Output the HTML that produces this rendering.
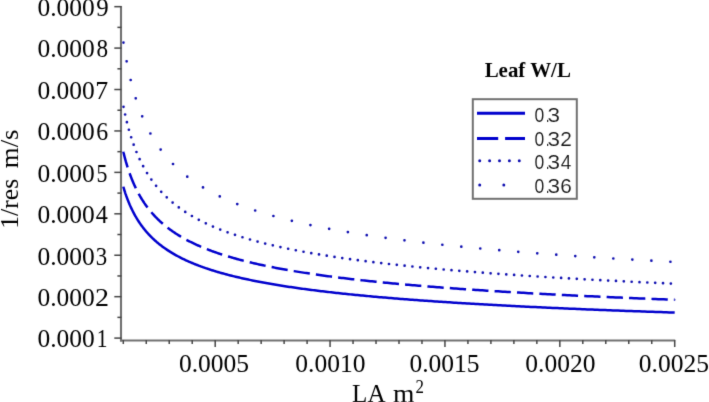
<!DOCTYPE html>
<html><head><meta charset="utf-8"><style>
html,body{margin:0;padding:0;background:#fff;}
svg{display:block;will-change:transform;}
</style></head><body>
<svg width="709" height="402" viewBox="0 0 709 402">
<defs><filter id="bl" filterUnits="userSpaceOnUse" x="0" y="0" width="709" height="402"><feConvolveMatrix order="3" kernelMatrix="0.01134 0.08382 0.01134 0.08382 0.61935 0.08382 0.01134 0.08382 0.01134" edgeMode="none" preserveAlpha="false"/></filter></defs>
<rect width="709" height="402" fill="#fff"/>
<g filter="url(#bl)">
<g fill="none" stroke="#0000cd" stroke-width="2.5" stroke-linejoin="round">
<polyline points="123.30,186.71 123.30,186.72 123.31,186.76 123.33,186.82 123.36,186.90 123.39,187.01 123.42,187.14 123.47,187.29 123.52,187.46 123.58,187.66 123.65,187.88 123.72,188.12 123.80,188.38 123.89,188.67 123.98,188.97 124.08,189.30 124.19,189.65 124.30,190.01 124.42,190.40 124.55,190.80 124.69,191.22 124.83,191.66 124.98,192.12 125.13,192.59 125.30,193.08 125.46,193.58 125.64,194.10 125.82,194.63 126.02,195.18 126.21,195.74 126.42,196.31 126.63,196.90 126.85,197.49 127.07,198.10 127.30,198.72 127.54,199.35 127.79,199.98 128.04,200.63 128.30,201.28 128.57,201.94 128.84,202.61 129.12,203.28 129.41,203.96 129.70,204.65 130.01,205.34 130.31,206.04 130.63,206.74 130.95,207.44 131.28,208.15 131.62,208.86 131.96,209.57 132.31,210.28 132.67,211.00 133.03,211.72 133.40,212.44 133.78,213.16 134.16,213.88 134.55,214.60 134.95,215.32 135.36,216.03 135.77,216.75 136.19,217.47 136.61,218.19 137.05,218.90 137.49,219.62 137.93,220.33 138.39,221.04 138.85,221.74 139.32,222.45 139.79,223.15 140.27,223.85 140.76,224.54 141.26,225.24 141.76,225.93 142.27,226.61 142.78,227.30 143.31,227.98 143.84,228.65 144.37,229.32 144.92,229.99 145.47,230.66 146.02,231.32 146.59,231.97 147.16,232.62 147.74,233.27 148.32,233.91 148.92,234.55 149.52,235.19 150.12,235.82 150.73,236.45 151.35,237.07 151.98,237.68 152.62,238.30 153.26,238.91 153.90,239.51 154.56,240.11 155.22,240.70 155.89,241.29 156.56,241.88 157.25,242.46 157.94,243.04 158.63,243.61 159.33,244.18 160.04,244.74 160.76,245.30 161.49,245.85 162.22,246.40 162.95,246.95 163.70,247.49 164.45,248.02 165.21,248.55 165.97,249.08 166.75,249.61 167.53,250.12 168.31,250.64 169.11,251.15 169.91,251.66 170.71,252.16 171.53,252.65 172.35,253.15 173.18,253.64 174.01,254.12 174.85,254.60 175.70,255.08 176.56,255.55 177.42,256.02 178.29,256.49 179.16,256.95 180.05,257.41 180.94,257.86 181.83,258.31 182.74,258.76 183.65,259.20 184.57,259.64 185.49,260.08 186.42,260.51 187.36,260.93 188.31,261.36 189.26,261.78 190.22,262.20 191.19,262.61 192.16,263.02 193.14,263.43 194.13,263.83 195.12,264.23 196.12,264.63 197.13,265.02 198.14,265.41 199.17,265.80 200.19,266.19 201.23,266.57 202.27,266.95 203.32,267.32 204.38,267.69 205.44,268.06 206.51,268.43 207.59,268.79 208.67,269.15 209.76,269.51 210.86,269.86 211.97,270.21 213.08,270.56 214.20,270.91 215.32,271.25 216.46,271.59 217.60,271.93 218.74,272.27 219.89,272.60 221.06,272.93 222.22,273.26 223.40,273.58 224.58,273.90 225.77,274.22 226.96,274.54 228.16,274.86 229.37,275.17 230.59,275.48 231.81,275.79 233.04,276.09 234.28,276.40 235.52,276.70 236.77,277.00 238.03,277.29 239.29,277.59 240.56,277.88 241.84,278.17 243.12,278.46 244.42,278.74 245.72,279.03 247.02,279.31 248.33,279.59 249.65,279.86 250.98,280.14 252.31,280.41 253.65,280.68 255.00,280.95 256.36,281.22 257.72,281.49 259.08,281.75 260.46,282.01 261.84,282.27 263.23,282.53 264.63,282.79 266.03,283.04 267.44,283.29 268.86,283.55 270.28,283.79 271.71,284.04 273.15,284.29 274.59,284.53 276.04,284.78 277.50,285.02 278.97,285.26 280.44,285.49 281.92,285.73 283.40,285.96 284.90,286.20 286.39,286.43 287.90,286.66 289.42,286.89 290.94,287.11 292.46,287.34 294.00,287.56 295.54,287.78 297.09,288.00 298.64,288.22 300.20,288.44 301.77,288.66 303.35,288.87 304.93,289.09 306.52,289.30 308.12,289.51 309.72,289.72 311.33,289.93 312.95,290.13 314.57,290.34 316.21,290.54 317.84,290.75 319.49,290.95 321.14,291.15 322.80,291.35 324.47,291.55 326.14,291.74 327.82,291.94 329.51,292.13 331.20,292.33 332.90,292.52 334.61,292.71 336.32,292.90 338.04,293.09 339.77,293.28 341.51,293.46 343.25,293.65 345.00,293.83 346.75,294.01 348.52,294.20 350.29,294.38 352.06,294.56 353.85,294.74 355.64,294.91 357.44,295.09 359.24,295.27 361.05,295.44 362.87,295.61 364.70,295.79 366.53,295.96 368.37,296.13 370.21,296.30 372.07,296.47 373.93,296.64 375.79,296.80 377.67,296.97 379.55,297.13 381.43,297.30 383.33,297.46 385.23,297.62 387.14,297.78 389.05,297.94 390.98,298.10 392.91,298.26 394.84,298.42 396.79,298.58 398.74,298.73 400.69,298.89 402.66,299.04 404.63,299.19 406.60,299.35 408.59,299.50 410.58,299.65 412.58,299.80 414.58,299.95 416.60,300.10 418.62,300.25 420.64,300.39 422.68,300.54 424.72,300.69 426.76,300.83 428.82,300.97 430.88,301.12 432.94,301.26 435.02,301.40 437.10,301.54 439.19,301.68 441.28,301.82 443.39,301.96 445.50,302.10 447.61,302.24 449.74,302.37 451.87,302.51 454.00,302.64 456.15,302.78 458.30,302.91 460.46,303.05 462.62,303.18 464.79,303.31 466.97,303.44 469.16,303.57 471.35,303.70 473.55,303.83 475.75,303.96 477.97,304.09 480.19,304.22 482.41,304.34 484.65,304.47 486.89,304.60 489.14,304.72 491.39,304.85 493.65,304.97 495.92,305.09 498.20,305.22 500.48,305.34 502.77,305.46 505.07,305.58 507.37,305.70 509.68,305.82 512.00,305.94 514.32,306.06 516.65,306.18 518.99,306.29 521.33,306.41 523.69,306.53 526.04,306.64 528.41,306.76 530.78,306.88 533.16,306.99 535.55,307.10 537.94,307.22 540.34,307.33 542.75,307.44 545.16,307.55 547.58,307.67 550.01,307.78 552.45,307.89 554.89,308.00 557.34,308.11 559.79,308.21 562.26,308.32 564.73,308.43 567.20,308.54 569.69,308.65 572.18,308.75 574.67,308.86 577.18,308.96 579.69,309.07 582.21,309.17 584.73,309.28 587.26,309.38 589.80,309.48 592.35,309.59 594.90,309.69 597.46,309.79 600.03,309.89 602.60,309.99 605.18,310.09 607.77,310.20 610.36,310.30 612.96,310.39 615.57,310.49 618.19,310.59 620.81,310.69 623.44,310.79 626.07,310.89 628.71,310.98 631.36,311.08 634.02,311.18 636.68,311.27 639.35,311.37 642.03,311.46 644.72,311.56 647.41,311.65 650.11,311.74 652.81,311.84 655.52,311.93 658.24,312.02 660.97,312.12 663.70,312.21 666.44,312.30 669.19,312.39 671.94,312.48 674.70,312.57" stroke-linecap="butt"/>
<polyline points="123.30,151.75 123.30,151.77 123.31,151.81 123.33,151.88 123.36,151.98 123.39,152.11 123.42,152.27 123.47,152.46 123.52,152.67 123.58,152.91 123.65,153.18 123.72,153.48 123.80,153.80 123.89,154.14 123.98,154.52 124.08,154.91 124.19,155.34 124.30,155.78 124.42,156.25 124.55,156.74 124.69,157.26 124.83,157.79 124.98,158.35 125.13,158.92 125.30,159.52 125.46,160.13 125.64,160.76 125.82,161.41 126.02,162.07 126.21,162.75 126.42,163.45 126.63,164.16 126.85,164.88 127.07,165.62 127.30,166.37 127.54,167.13 127.79,167.90 128.04,168.68 128.30,169.47 128.57,170.27 128.84,171.08 129.12,171.89 129.41,172.71 129.70,173.54 130.01,174.38 130.31,175.22 130.63,176.06 130.95,176.91 131.28,177.76 131.62,178.61 131.96,179.47 132.31,180.33 132.67,181.19 133.03,182.06 133.40,182.92 133.78,183.78 134.16,184.65 134.55,185.51 134.95,186.37 135.36,187.24 135.77,188.10 136.19,188.96 136.61,189.81 137.05,190.67 137.49,191.52 137.93,192.37 138.39,193.22 138.85,194.06 139.32,194.90 139.79,195.74 140.27,196.57 140.76,197.40 141.26,198.23 141.76,199.05 142.27,199.87 142.78,200.68 143.31,201.49 143.84,202.29 144.37,203.09 144.92,203.88 145.47,204.67 146.02,205.45 146.59,206.23 147.16,207.01 147.74,207.77 148.32,208.54 148.92,209.29 149.52,210.04 150.12,210.79 150.73,211.53 151.35,212.27 151.98,213.00 152.62,213.72 153.26,214.44 153.90,215.15 154.56,215.86 155.22,216.56 155.89,217.26 156.56,217.95 157.25,218.63 157.94,219.31 158.63,219.98 159.33,220.65 160.04,221.31 160.76,221.97 161.49,222.62 162.22,223.27 162.95,223.91 163.70,224.55 164.45,225.18 165.21,225.80 165.97,226.42 166.75,227.03 167.53,227.64 168.31,228.25 169.11,228.84 169.91,229.44 170.71,230.02 171.53,230.61 172.35,231.19 173.18,231.76 174.01,232.33 174.85,232.89 175.70,233.45 176.56,234.00 177.42,234.55 178.29,235.09 179.16,235.63 180.05,236.17 180.94,236.70 181.83,237.22 182.74,237.75 183.65,238.26 184.57,238.77 185.49,239.28 186.42,239.78 187.36,240.28 188.31,240.78 189.26,241.27 190.22,241.75 191.19,242.24 192.16,242.72 193.14,243.19 194.13,243.66 195.12,244.13 196.12,244.59 197.13,245.05 198.14,245.50 199.17,245.95 200.19,246.40 201.23,246.84 202.27,247.28 203.32,247.72 204.38,248.15 205.44,248.58 206.51,249.00 207.59,249.42 208.67,249.84 209.76,250.26 210.86,250.67 211.97,251.07 213.08,251.48 214.20,251.88 215.32,252.28 216.46,252.67 217.60,253.07 218.74,253.45 219.89,253.84 221.06,254.22 222.22,254.60 223.40,254.98 224.58,255.35 225.77,255.72 226.96,256.09 228.16,256.45 229.37,256.82 230.59,257.17 231.81,257.53 233.04,257.88 234.28,258.24 235.52,258.58 236.77,258.93 238.03,259.27 239.29,259.61 240.56,259.95 241.84,260.28 243.12,260.62 244.42,260.95 245.72,261.27 247.02,261.60 248.33,261.92 249.65,262.24 250.98,262.56 252.31,262.88 253.65,263.19 255.00,263.50 256.36,263.81 257.72,264.12 259.08,264.42 260.46,264.72 261.84,265.02 263.23,265.32 264.63,265.62 266.03,265.91 267.44,266.20 268.86,266.49 270.28,266.78 271.71,267.06 273.15,267.35 274.59,267.63 276.04,267.91 277.50,268.19 278.97,268.46 280.44,268.73 281.92,269.01 283.40,269.28 284.90,269.54 286.39,269.81 287.90,270.07 289.42,270.34 290.94,270.60 292.46,270.86 294.00,271.11 295.54,271.37 297.09,271.62 298.64,271.88 300.20,272.13 301.77,272.38 303.35,272.62 304.93,272.87 306.52,273.11 308.12,273.36 309.72,273.60 311.33,273.84 312.95,274.07 314.57,274.31 316.21,274.55 317.84,274.78 319.49,275.01 321.14,275.24 322.80,275.47 324.47,275.70 326.14,275.92 327.82,276.15 329.51,276.37 331.20,276.59 332.90,276.82 334.61,277.03 336.32,277.25 338.04,277.47 339.77,277.68 341.51,277.90 343.25,278.11 345.00,278.32 346.75,278.53 348.52,278.74 350.29,278.95 352.06,279.15 353.85,279.36 355.64,279.56 357.44,279.77 359.24,279.97 361.05,280.17 362.87,280.37 364.70,280.57 366.53,280.76 368.37,280.96 370.21,281.15 372.07,281.35 373.93,281.54 375.79,281.73 377.67,281.92 379.55,282.11 381.43,282.30 383.33,282.48 385.23,282.67 387.14,282.85 389.05,283.04 390.98,283.22 392.91,283.40 394.84,283.58 396.79,283.76 398.74,283.94 400.69,284.12 402.66,284.30 404.63,284.47 406.60,284.65 408.59,284.82 410.58,284.99 412.58,285.17 414.58,285.34 416.60,285.51 418.62,285.68 420.64,285.85 422.68,286.01 424.72,286.18 426.76,286.34 428.82,286.51 430.88,286.67 432.94,286.84 435.02,287.00 437.10,287.16 439.19,287.32 441.28,287.48 443.39,287.64 445.50,287.80 447.61,287.96 449.74,288.11 451.87,288.27 454.00,288.42 456.15,288.58 458.30,288.73 460.46,288.88 462.62,289.03 464.79,289.19 466.97,289.34 469.16,289.49 471.35,289.63 473.55,289.78 475.75,289.93 477.97,290.08 480.19,290.22 482.41,290.37 484.65,290.51 486.89,290.66 489.14,290.80 491.39,290.94 493.65,291.08 495.92,291.22 498.20,291.36 500.48,291.50 502.77,291.64 505.07,291.78 507.37,291.92 509.68,292.06 512.00,292.19 514.32,292.33 516.65,292.46 518.99,292.60 521.33,292.73 523.69,292.87 526.04,293.00 528.41,293.13 530.78,293.26 533.16,293.39 535.55,293.52 537.94,293.65 540.34,293.78 542.75,293.91 545.16,294.04 547.58,294.16 550.01,294.29 552.45,294.42 554.89,294.54 557.34,294.67 559.79,294.79 562.26,294.92 564.73,295.04 567.20,295.16 569.69,295.28 572.18,295.41 574.67,295.53 577.18,295.65 579.69,295.77 582.21,295.89 584.73,296.01 587.26,296.13 589.80,296.24 592.35,296.36 594.90,296.48 597.46,296.59 600.03,296.71 602.60,296.83 605.18,296.94 607.77,297.06 610.36,297.17 612.96,297.28 615.57,297.40 618.19,297.51 620.81,297.62 623.44,297.73 626.07,297.84 628.71,297.95 631.36,298.07 634.02,298.18 636.68,298.28 639.35,298.39 642.03,298.50 644.72,298.61 647.41,298.72 650.11,298.82 652.81,298.93 655.52,299.04 658.24,299.14 660.97,299.25 663.70,299.35 666.44,299.46 669.19,299.56 671.94,299.67 674.70,299.77" stroke-dasharray="16.3 6.14" stroke-linecap="butt"/>
<polyline points="123.30,105.74 123.30,105.75 123.31,105.81 123.33,105.90 123.36,106.02 123.39,106.18 123.42,106.37 123.47,106.60 123.52,106.87 123.58,107.16 123.65,107.49 123.72,107.86 123.80,108.26 123.89,108.68 123.98,109.14 124.08,109.63 124.19,110.15 124.30,110.70 124.42,111.28 124.55,111.89 124.69,112.52 124.83,113.18 124.98,113.86 125.13,114.57 125.30,115.30 125.46,116.06 125.64,116.83 125.82,117.63 126.02,118.45 126.21,119.29 126.42,120.14 126.63,121.01 126.85,121.90 127.07,122.81 127.30,123.72 127.54,124.66 127.79,125.60 128.04,126.56 128.30,127.53 128.57,128.51 128.84,129.50 129.12,130.50 129.41,131.50 129.70,132.52 130.01,133.54 130.31,134.57 130.63,135.60 130.95,136.64 131.28,137.68 131.62,138.72 131.96,139.77 132.31,140.82 132.67,141.87 133.03,142.92 133.40,143.98 133.78,145.03 134.16,146.08 134.55,147.14 134.95,148.19 135.36,149.24 135.77,150.29 136.19,151.33 136.61,152.38 137.05,153.42 137.49,154.45 137.93,155.49 138.39,156.52 138.85,157.54 139.32,158.56 139.79,159.58 140.27,160.59 140.76,161.60 141.26,162.60 141.76,163.60 142.27,164.59 142.78,165.57 143.31,166.55 143.84,167.52 144.37,168.49 144.92,169.45 145.47,170.41 146.02,171.35 146.59,172.30 147.16,173.23 147.74,174.16 148.32,175.08 148.92,175.99 149.52,176.90 150.12,177.80 150.73,178.70 151.35,179.58 151.98,180.47 152.62,181.34 153.26,182.21 153.90,183.06 154.56,183.92 155.22,184.76 155.89,185.60 156.56,186.43 157.25,187.26 157.94,188.08 158.63,188.89 159.33,189.69 160.04,190.49 160.76,191.28 161.49,192.06 162.22,192.84 162.95,193.61 163.70,194.37 164.45,195.13 165.21,195.88 165.97,196.62 166.75,197.36 167.53,198.09 168.31,198.82 169.11,199.53 169.91,200.25 170.71,200.95 171.53,201.65 172.35,202.34 173.18,203.03 174.01,203.71 174.85,204.39 175.70,205.06 176.56,205.72 177.42,206.38 178.29,207.03 179.16,207.67 180.05,208.31 180.94,208.95 181.83,209.58 182.74,210.20 183.65,210.82 184.57,211.43 185.49,212.04 186.42,212.64 187.36,213.24 188.31,213.83 189.26,214.41 190.22,214.99 191.19,215.57 192.16,216.14 193.14,216.71 194.13,217.27 195.12,217.83 196.12,218.38 197.13,218.92 198.14,219.47 199.17,220.00 200.19,220.54 201.23,221.07 202.27,221.59 203.32,222.11 204.38,222.63 205.44,223.14 206.51,223.64 207.59,224.15 208.67,224.64 209.76,225.14 210.86,225.63 211.97,226.11 213.08,226.60 214.20,227.07 215.32,227.55 216.46,228.02 217.60,228.49 218.74,228.95 219.89,229.41 221.06,229.86 222.22,230.31 223.40,230.76 224.58,231.21 225.77,231.65 226.96,232.08 228.16,232.52 229.37,232.95 230.59,233.37 231.81,233.80 233.04,234.22 234.28,234.64 235.52,235.05 236.77,235.46 238.03,235.87 239.29,236.27 240.56,236.67 241.84,237.07 243.12,237.47 244.42,237.86 245.72,238.25 247.02,238.63 248.33,239.02 249.65,239.40 250.98,239.77 252.31,240.15 253.65,240.52 255.00,240.89 256.36,241.26 257.72,241.62 259.08,241.98 260.46,242.34 261.84,242.70 263.23,243.05 264.63,243.40 266.03,243.75 267.44,244.09 268.86,244.44 270.28,244.78 271.71,245.12 273.15,245.45 274.59,245.79 276.04,246.12 277.50,246.45 278.97,246.77 280.44,247.10 281.92,247.42 283.40,247.74 284.90,248.06 286.39,248.37 287.90,248.69 289.42,249.00 290.94,249.31 292.46,249.61 294.00,249.92 295.54,250.22 297.09,250.52 298.64,250.82 300.20,251.12 301.77,251.41 303.35,251.70 304.93,252.00 306.52,252.28 308.12,252.57 309.72,252.86 311.33,253.14 312.95,253.42 314.57,253.70 316.21,253.98 317.84,254.26 319.49,254.53 321.14,254.80 322.80,255.07 324.47,255.34 326.14,255.61 327.82,255.88 329.51,256.14 331.20,256.40 332.90,256.66 334.61,256.92 336.32,257.18 338.04,257.44 339.77,257.69 341.51,257.94 343.25,258.20 345.00,258.45 346.75,258.69 348.52,258.94 350.29,259.19 352.06,259.43 353.85,259.67 355.64,259.91 357.44,260.15 359.24,260.39 361.05,260.63 362.87,260.86 364.70,261.10 366.53,261.33 368.37,261.56 370.21,261.79 372.07,262.02 373.93,262.25 375.79,262.47 377.67,262.70 379.55,262.92 381.43,263.14 383.33,263.36 385.23,263.58 387.14,263.80 389.05,264.02 390.98,264.23 392.91,264.45 394.84,264.66 396.79,264.87 398.74,265.08 400.69,265.29 402.66,265.50 404.63,265.71 406.60,265.92 408.59,266.12 410.58,266.33 412.58,266.53 414.58,266.73 416.60,266.93 418.62,267.13 420.64,267.33 422.68,267.53 424.72,267.73 426.76,267.92 428.82,268.12 430.88,268.31 432.94,268.50 435.02,268.69 437.10,268.88 439.19,269.07 441.28,269.26 443.39,269.45 445.50,269.64 447.61,269.82 449.74,270.01 451.87,270.19 454.00,270.37 456.15,270.55 458.30,270.73 460.46,270.91 462.62,271.09 464.79,271.27 466.97,271.45 469.16,271.63 471.35,271.80 473.55,271.98 475.75,272.15 477.97,272.32 480.19,272.49 482.41,272.67 484.65,272.84 486.89,273.00 489.14,273.17 491.39,273.34 493.65,273.51 495.92,273.67 498.20,273.84 500.48,274.00 502.77,274.17 505.07,274.33 507.37,274.49 509.68,274.66 512.00,274.82 514.32,274.98 516.65,275.14 518.99,275.29 521.33,275.45 523.69,275.61 526.04,275.77 528.41,275.92 530.78,276.08 533.16,276.23 535.55,276.38 537.94,276.54 540.34,276.69 542.75,276.84 545.16,276.99 547.58,277.14 550.01,277.29 552.45,277.44 554.89,277.59 557.34,277.73 559.79,277.88 562.26,278.02 564.73,278.17 567.20,278.31 569.69,278.46 572.18,278.60 574.67,278.74 577.18,278.89 579.69,279.03 582.21,279.17 584.73,279.31 587.26,279.45 589.80,279.59 592.35,279.73 594.90,279.86 597.46,280.00 600.03,280.14 602.60,280.27 605.18,280.41 607.77,280.54 610.36,280.68 612.96,280.81 615.57,280.95 618.19,281.08 620.81,281.21 623.44,281.34 626.07,281.47 628.71,281.60 631.36,281.73 634.02,281.86 636.68,281.99 639.35,282.12 642.03,282.25 644.72,282.37 647.41,282.50 650.11,282.63 652.81,282.75 655.52,282.88 658.24,283.00 660.97,283.13 663.70,283.25 666.44,283.37 669.19,283.49 671.94,283.62 674.70,283.74" stroke="#1010b0" stroke-dasharray="0 7.85" stroke-dashoffset="-1.09" stroke-linecap="round" stroke-width="2.7"/>
<polyline points="123.30,41.66 123.30,41.68 123.31,41.75 123.33,41.86 123.36,42.02 123.39,42.23 123.42,42.48 123.47,42.78 123.52,43.12 123.58,43.50 123.65,43.92 123.72,44.39 123.80,44.90 123.89,45.46 123.98,46.05 124.08,46.68 124.19,47.35 124.30,48.05 124.42,48.80 124.55,49.58 124.69,50.39 124.83,51.23 124.98,52.11 125.13,53.02 125.30,53.96 125.46,54.93 125.64,55.93 125.82,56.95 126.02,58.00 126.21,59.07 126.42,60.16 126.63,61.28 126.85,62.42 127.07,63.57 127.30,64.75 127.54,65.94 127.79,67.15 128.04,68.37 128.30,69.61 128.57,70.85 128.84,72.12 129.12,73.39 129.41,74.67 129.70,75.96 130.01,77.26 130.31,78.56 130.63,79.88 130.95,81.19 131.28,82.52 131.62,83.84 131.96,85.17 132.31,86.50 132.67,87.83 133.03,89.17 133.40,90.50 133.78,91.83 134.16,93.16 134.55,94.49 134.95,95.82 135.36,97.15 135.77,98.47 136.19,99.79 136.61,101.10 137.05,102.42 137.49,103.72 137.93,105.02 138.39,106.32 138.85,107.61 139.32,108.89 139.79,110.17 140.27,111.44 140.76,112.70 141.26,113.96 141.76,115.21 142.27,116.45 142.78,117.68 143.31,118.91 143.84,120.13 144.37,121.34 144.92,122.54 145.47,123.73 146.02,124.91 146.59,126.09 147.16,127.26 147.74,128.41 148.32,129.56 148.92,130.70 149.52,131.83 150.12,132.96 150.73,134.07 151.35,135.17 151.98,136.27 152.62,137.36 153.26,138.43 153.90,139.50 154.56,140.56 155.22,141.61 155.89,142.65 156.56,143.68 157.25,144.70 157.94,145.72 158.63,146.72 159.33,147.72 160.04,148.71 160.76,149.68 161.49,150.65 162.22,151.62 162.95,152.57 163.70,153.51 164.45,154.45 165.21,155.37 165.97,156.29 166.75,157.20 167.53,158.10 168.31,159.00 169.11,159.88 169.91,160.76 170.71,161.63 171.53,162.49 172.35,163.35 173.18,164.19 174.01,165.03 174.85,165.86 175.70,166.68 176.56,167.50 177.42,168.31 178.29,169.11 179.16,169.90 180.05,170.69 180.94,171.47 181.83,172.24 182.74,173.00 183.65,173.76 184.57,174.51 185.49,175.26 186.42,176.00 187.36,176.73 188.31,177.45 189.26,178.17 190.22,178.88 191.19,179.59 192.16,180.29 193.14,180.98 194.13,181.67 195.12,182.35 196.12,183.02 197.13,183.69 198.14,184.35 199.17,185.01 200.19,185.66 201.23,186.31 202.27,186.95 203.32,187.58 204.38,188.21 205.44,188.84 206.51,189.45 207.59,190.07 208.67,190.67 209.76,191.28 210.86,191.88 211.97,192.47 213.08,193.06 214.20,193.64 215.32,194.22 216.46,194.79 217.60,195.36 218.74,195.92 219.89,196.48 221.06,197.03 222.22,197.58 223.40,198.13 224.58,198.67 225.77,199.20 226.96,199.74 228.16,200.26 229.37,200.79 230.59,201.31 231.81,201.82 233.04,202.33 234.28,202.84 235.52,203.34 236.77,203.84 238.03,204.33 239.29,204.82 240.56,205.31 241.84,205.79 243.12,206.27 244.42,206.75 245.72,207.22 247.02,207.69 248.33,208.15 249.65,208.62 250.98,209.07 252.31,209.53 253.65,209.98 255.00,210.43 256.36,210.87 257.72,211.31 259.08,211.75 260.46,212.18 261.84,212.61 263.23,213.04 264.63,213.47 266.03,213.89 267.44,214.31 268.86,214.72 270.28,215.13 271.71,215.54 273.15,215.95 274.59,216.35 276.04,216.75 277.50,217.15 278.97,217.55 280.44,217.94 281.92,218.33 283.40,218.71 284.90,219.10 286.39,219.48 287.90,219.86 289.42,220.23 290.94,220.61 292.46,220.98 294.00,221.35 295.54,221.71 297.09,222.08 298.64,222.44 300.20,222.79 301.77,223.15 303.35,223.50 304.93,223.86 306.52,224.20 308.12,224.55 309.72,224.89 311.33,225.24 312.95,225.58 314.57,225.91 316.21,226.25 317.84,226.58 319.49,226.91 321.14,227.24 322.80,227.57 324.47,227.89 326.14,228.22 327.82,228.54 329.51,228.85 331.20,229.17 332.90,229.48 334.61,229.80 336.32,230.11 338.04,230.42 339.77,230.72 341.51,231.03 343.25,231.33 345.00,231.63 346.75,231.93 348.52,232.23 350.29,232.52 352.06,232.82 353.85,233.11 355.64,233.40 357.44,233.68 359.24,233.97 361.05,234.26 362.87,234.54 364.70,234.82 366.53,235.10 368.37,235.38 370.21,235.65 372.07,235.93 373.93,236.20 375.79,236.47 377.67,236.74 379.55,237.01 381.43,237.28 383.33,237.55 385.23,237.81 387.14,238.07 389.05,238.33 390.98,238.59 392.91,238.85 394.84,239.11 396.79,239.36 398.74,239.61 400.69,239.87 402.66,240.12 404.63,240.37 406.60,240.61 408.59,240.86 410.58,241.11 412.58,241.35 414.58,241.59 416.60,241.83 418.62,242.07 420.64,242.31 422.68,242.55 424.72,242.79 426.76,243.02 428.82,243.25 430.88,243.49 432.94,243.72 435.02,243.95 437.10,244.17 439.19,244.40 441.28,244.63 443.39,244.85 445.50,245.08 447.61,245.30 449.74,245.52 451.87,245.74 454.00,245.96 456.15,246.18 458.30,246.40 460.46,246.61 462.62,246.83 464.79,247.04 466.97,247.25 469.16,247.46 471.35,247.67 473.55,247.88 475.75,248.09 477.97,248.30 480.19,248.51 482.41,248.71 484.65,248.91 486.89,249.12 489.14,249.32 491.39,249.52 493.65,249.72 495.92,249.92 498.20,250.12 500.48,250.32 502.77,250.51 505.07,250.71 507.37,250.90 509.68,251.10 512.00,251.29 514.32,251.48 516.65,251.67 518.99,251.86 521.33,252.05 523.69,252.24 526.04,252.42 528.41,252.61 530.78,252.80 533.16,252.98 535.55,253.16 537.94,253.35 540.34,253.53 542.75,253.71 545.16,253.89 547.58,254.07 550.01,254.25 552.45,254.43 554.89,254.60 557.34,254.78 559.79,254.95 562.26,255.13 564.73,255.30 567.20,255.48 569.69,255.65 572.18,255.82 574.67,255.99 577.18,256.16 579.69,256.33 582.21,256.50 584.73,256.67 587.26,256.83 589.80,257.00 592.35,257.16 594.90,257.33 597.46,257.49 600.03,257.66 602.60,257.82 605.18,257.98 607.77,258.14 610.36,258.30 612.96,258.46 615.57,258.62 618.19,258.78 620.81,258.94 623.44,259.10 626.07,259.25 628.71,259.41 631.36,259.56 634.02,259.72 636.68,259.87 639.35,260.02 642.03,260.18 644.72,260.33 647.41,260.48 650.11,260.63 652.81,260.78 655.52,260.93 658.24,261.08 660.97,261.23 663.70,261.38 666.44,261.52 669.19,261.67 671.94,261.82 674.70,261.96" stroke="#1010b0" stroke-dasharray="0 19.06" stroke-dashoffset="-0.93" stroke-linecap="round" stroke-width="2.7"/>
<circle cx="674.70" cy="299.77" r="0.9" fill="#5050c8" stroke="none"/>
</g>
<g stroke="#707070" stroke-width="2.1" fill="none">
<line x1="121" y1="6" x2="121" y2="341.5"/>
<line x1="120" y1="340.5" x2="675.2" y2="340.5"/>
</g>
<g stroke="#454545" stroke-width="1.5" fill="none">
<line x1="114.3" y1="338.10" x2="121.5" y2="338.10"/><line x1="114.3" y1="296.67" x2="121.5" y2="296.67"/><line x1="114.3" y1="255.24" x2="121.5" y2="255.24"/><line x1="114.3" y1="213.81" x2="121.5" y2="213.81"/><line x1="114.3" y1="172.38" x2="121.5" y2="172.38"/><line x1="114.3" y1="130.95" x2="121.5" y2="130.95"/><line x1="114.3" y1="89.52" x2="121.5" y2="89.52"/><line x1="114.3" y1="48.09" x2="121.5" y2="48.09"/><line x1="114.3" y1="6.66" x2="121.5" y2="6.66"/><line x1="117.4" y1="317.38" x2="121.5" y2="317.38"/><line x1="117.4" y1="275.96" x2="121.5" y2="275.96"/><line x1="117.4" y1="234.52" x2="121.5" y2="234.52"/><line x1="117.4" y1="193.09" x2="121.5" y2="193.09"/><line x1="117.4" y1="151.66" x2="121.5" y2="151.66"/><line x1="117.4" y1="110.24" x2="121.5" y2="110.24"/><line x1="117.4" y1="68.81" x2="121.5" y2="68.81"/><line x1="117.4" y1="27.38" x2="121.5" y2="27.38"/><line x1="123.30" y1="340" x2="123.30" y2="344"/><line x1="146.27" y1="340" x2="146.27" y2="344"/><line x1="169.25" y1="340" x2="169.25" y2="344"/><line x1="192.22" y1="340" x2="192.22" y2="344"/><line x1="215.20" y1="340" x2="215.20" y2="347"/><line x1="238.18" y1="340" x2="238.18" y2="344"/><line x1="261.15" y1="340" x2="261.15" y2="344"/><line x1="284.12" y1="340" x2="284.12" y2="344"/><line x1="307.10" y1="340" x2="307.10" y2="344"/><line x1="330.07" y1="340" x2="330.07" y2="347"/><line x1="353.05" y1="340" x2="353.05" y2="344"/><line x1="376.02" y1="340" x2="376.02" y2="344"/><line x1="399.00" y1="340" x2="399.00" y2="344"/><line x1="421.98" y1="340" x2="421.98" y2="344"/><line x1="444.95" y1="340" x2="444.95" y2="347"/><line x1="467.93" y1="340" x2="467.93" y2="344"/><line x1="490.90" y1="340" x2="490.90" y2="344"/><line x1="513.88" y1="340" x2="513.88" y2="344"/><line x1="536.85" y1="340" x2="536.85" y2="344"/><line x1="559.83" y1="340" x2="559.83" y2="347"/><line x1="582.80" y1="340" x2="582.80" y2="344"/><line x1="605.78" y1="340" x2="605.78" y2="344"/><line x1="628.75" y1="340" x2="628.75" y2="344"/><line x1="651.73" y1="340" x2="651.73" y2="344"/><line x1="674.70" y1="340" x2="674.70" y2="347"/>
</g>
<text x="37.41" y="347.40" font-family="Liberation Serif, serif" font-size="24.8" textLength="57.26" lengthAdjust="spacingAndGlyphs">0.000</text><text x="96.77" y="347.40" font-family="Liberation Serif, serif" font-size="24.8" textLength="10.72" lengthAdjust="spacingAndGlyphs">1</text><text x="37.41" y="305.97" font-family="Liberation Serif, serif" font-size="24.8" textLength="57.26" lengthAdjust="spacingAndGlyphs">0.000</text><text x="94.93" y="305.97" font-family="Liberation Serif, serif" font-size="24.8" textLength="14.02" lengthAdjust="spacingAndGlyphs">2</text><text x="37.41" y="264.54" font-family="Liberation Serif, serif" font-size="24.8" textLength="57.26" lengthAdjust="spacingAndGlyphs">0.000</text><text x="95.86" y="264.54" font-family="Liberation Serif, serif" font-size="24.8" textLength="11.42" lengthAdjust="spacingAndGlyphs">3</text><text x="37.41" y="223.11" font-family="Liberation Serif, serif" font-size="24.8" textLength="57.26" lengthAdjust="spacingAndGlyphs">0.000</text><text x="95.67" y="223.11" font-family="Liberation Serif, serif" font-size="24.8" textLength="12.08" lengthAdjust="spacingAndGlyphs">4</text><text x="37.41" y="181.68" font-family="Liberation Serif, serif" font-size="24.8" textLength="57.26" lengthAdjust="spacingAndGlyphs">0.000</text><text x="96.41" y="181.68" font-family="Liberation Serif, serif" font-size="24.8" textLength="10.90" lengthAdjust="spacingAndGlyphs">5</text><text x="37.41" y="140.25" font-family="Liberation Serif, serif" font-size="24.8" textLength="57.26" lengthAdjust="spacingAndGlyphs">0.000</text><text x="96.23" y="140.25" font-family="Liberation Serif, serif" font-size="24.8" textLength="11.94" lengthAdjust="spacingAndGlyphs">6</text><text x="37.41" y="98.82" font-family="Liberation Serif, serif" font-size="24.8" textLength="57.26" lengthAdjust="spacingAndGlyphs">0.000</text><text x="95.34" y="98.82" font-family="Liberation Serif, serif" font-size="24.8" textLength="12.91" lengthAdjust="spacingAndGlyphs">7</text><text x="37.41" y="57.39" font-family="Liberation Serif, serif" font-size="24.8" textLength="57.26" lengthAdjust="spacingAndGlyphs">0.000</text><text x="96.57" y="57.39" font-family="Liberation Serif, serif" font-size="24.8" textLength="11.60" lengthAdjust="spacingAndGlyphs">8</text><text x="37.41" y="15.96" font-family="Liberation Serif, serif" font-size="24.8" textLength="57.26" lengthAdjust="spacingAndGlyphs">0.000</text><text x="96.39" y="15.96" font-family="Liberation Serif, serif" font-size="24.8" textLength="12.45" lengthAdjust="spacingAndGlyphs">9</text><text x="178.90" y="371.70" font-family="Liberation Serif, serif" font-weight="normal" font-size="24.75" textLength="70.20" lengthAdjust="spacingAndGlyphs" fill="#000">0.0005</text><text x="295.26" y="371.70" font-family="Liberation Serif, serif" font-weight="normal" font-size="24.75" textLength="70.20" lengthAdjust="spacingAndGlyphs" fill="#000">0.0010</text><text x="409.43" y="371.70" font-family="Liberation Serif, serif" font-weight="normal" font-size="24.75" textLength="70.20" lengthAdjust="spacingAndGlyphs" fill="#000">0.0015</text><text x="525.30" y="371.70" font-family="Liberation Serif, serif" font-weight="normal" font-size="24.75" textLength="70.20" lengthAdjust="spacingAndGlyphs" fill="#000">0.0020</text><text x="638.85" y="371.70" font-family="Liberation Serif, serif" font-weight="normal" font-size="24.75" textLength="70.20" lengthAdjust="spacingAndGlyphs" fill="#000">0.0025</text><text x="352.11" y="402.00" font-family="Liberation Serif, serif" font-weight="normal" font-size="24.24" textLength="33.43" lengthAdjust="spacingAndGlyphs" fill="#000">LA</text><text x="392.98" y="402.00" font-family="Liberation Serif, serif" font-weight="normal" font-size="25.80" textLength="21.44" lengthAdjust="spacingAndGlyphs" fill="#000">m</text><text x="415.54" y="393.00" font-family="Liberation Serif, serif" font-weight="normal" font-size="18.00" textLength="8.45" lengthAdjust="spacingAndGlyphs" fill="#000">2</text><text x="484.67" y="76.60" font-family="Liberation Serif, serif" font-weight="bold" font-size="20.97" textLength="86.24" lengthAdjust="spacingAndGlyphs" fill="#000">Leaf W/L</text><text transform="translate(17.58,228.86) rotate(-90)" font-family="Liberation Serif, serif" font-weight="normal" font-size="25.03" textLength="50.13" lengthAdjust="spacingAndGlyphs" fill="#000">1/res</text><text transform="translate(17.58,168.17) rotate(-90)" font-family="Liberation Serif, serif" font-weight="normal" font-size="26.01" textLength="38.70" lengthAdjust="spacingAndGlyphs" fill="#000">m/s</text><g font-family="Liberation Sans, sans-serif" font-size="20.9" fill="#111" stroke="#fff" stroke-width="0.1"><text x="534.58" y="121.60" textLength="9.74" lengthAdjust="spacingAndGlyphs">0</text><text x="545.81" y="121.60" textLength="3.73" lengthAdjust="spacingAndGlyphs">.</text><text x="547.61" y="121.60" textLength="12.50" lengthAdjust="spacingAndGlyphs">3</text><text x="534.58" y="145.80" textLength="9.74" lengthAdjust="spacingAndGlyphs">0</text><text x="545.81" y="145.80" textLength="3.73" lengthAdjust="spacingAndGlyphs">.</text><text x="547.63" y="145.80" textLength="12.48" lengthAdjust="spacingAndGlyphs">3</text><text x="560.15" y="145.80" textLength="11.63" lengthAdjust="spacingAndGlyphs">2</text><text x="534.60" y="169.40" textLength="9.75" lengthAdjust="spacingAndGlyphs">0</text><text x="545.81" y="169.40" textLength="3.73" lengthAdjust="spacingAndGlyphs">.</text><text x="547.63" y="169.40" textLength="12.53" lengthAdjust="spacingAndGlyphs">3</text><text x="560.67" y="169.40" textLength="10.64" lengthAdjust="spacingAndGlyphs">4</text><text x="534.59" y="193.35" textLength="9.76" lengthAdjust="spacingAndGlyphs">0</text><text x="545.81" y="193.35" textLength="3.73" lengthAdjust="spacingAndGlyphs">.</text><text x="547.62" y="193.35" textLength="12.53" lengthAdjust="spacingAndGlyphs">3</text><text x="560.18" y="193.35" textLength="11.54" lengthAdjust="spacingAndGlyphs">6</text></g>
<rect x="472.8" y="99.2" width="104" height="99.6" fill="none" stroke="#707070" stroke-width="2"/>
<g stroke="#0000cd" stroke-width="3">
<line x1="477" y1="113.2" x2="525" y2="113.2"/>
<line x1="477" y1="138.4" x2="525" y2="138.4" stroke-dasharray="21.2 6.9"/>
<line x1="479.7" y1="160.8" x2="525" y2="160.8" stroke="#1010b0" stroke-dasharray="0 9.9" stroke-linecap="round"/>
<line x1="479.7" y1="185.1" x2="525" y2="185.1" stroke="#1010b0" stroke-dasharray="0 24.1" stroke-linecap="round"/>
</g>
</g>
</svg>
</body></html>
